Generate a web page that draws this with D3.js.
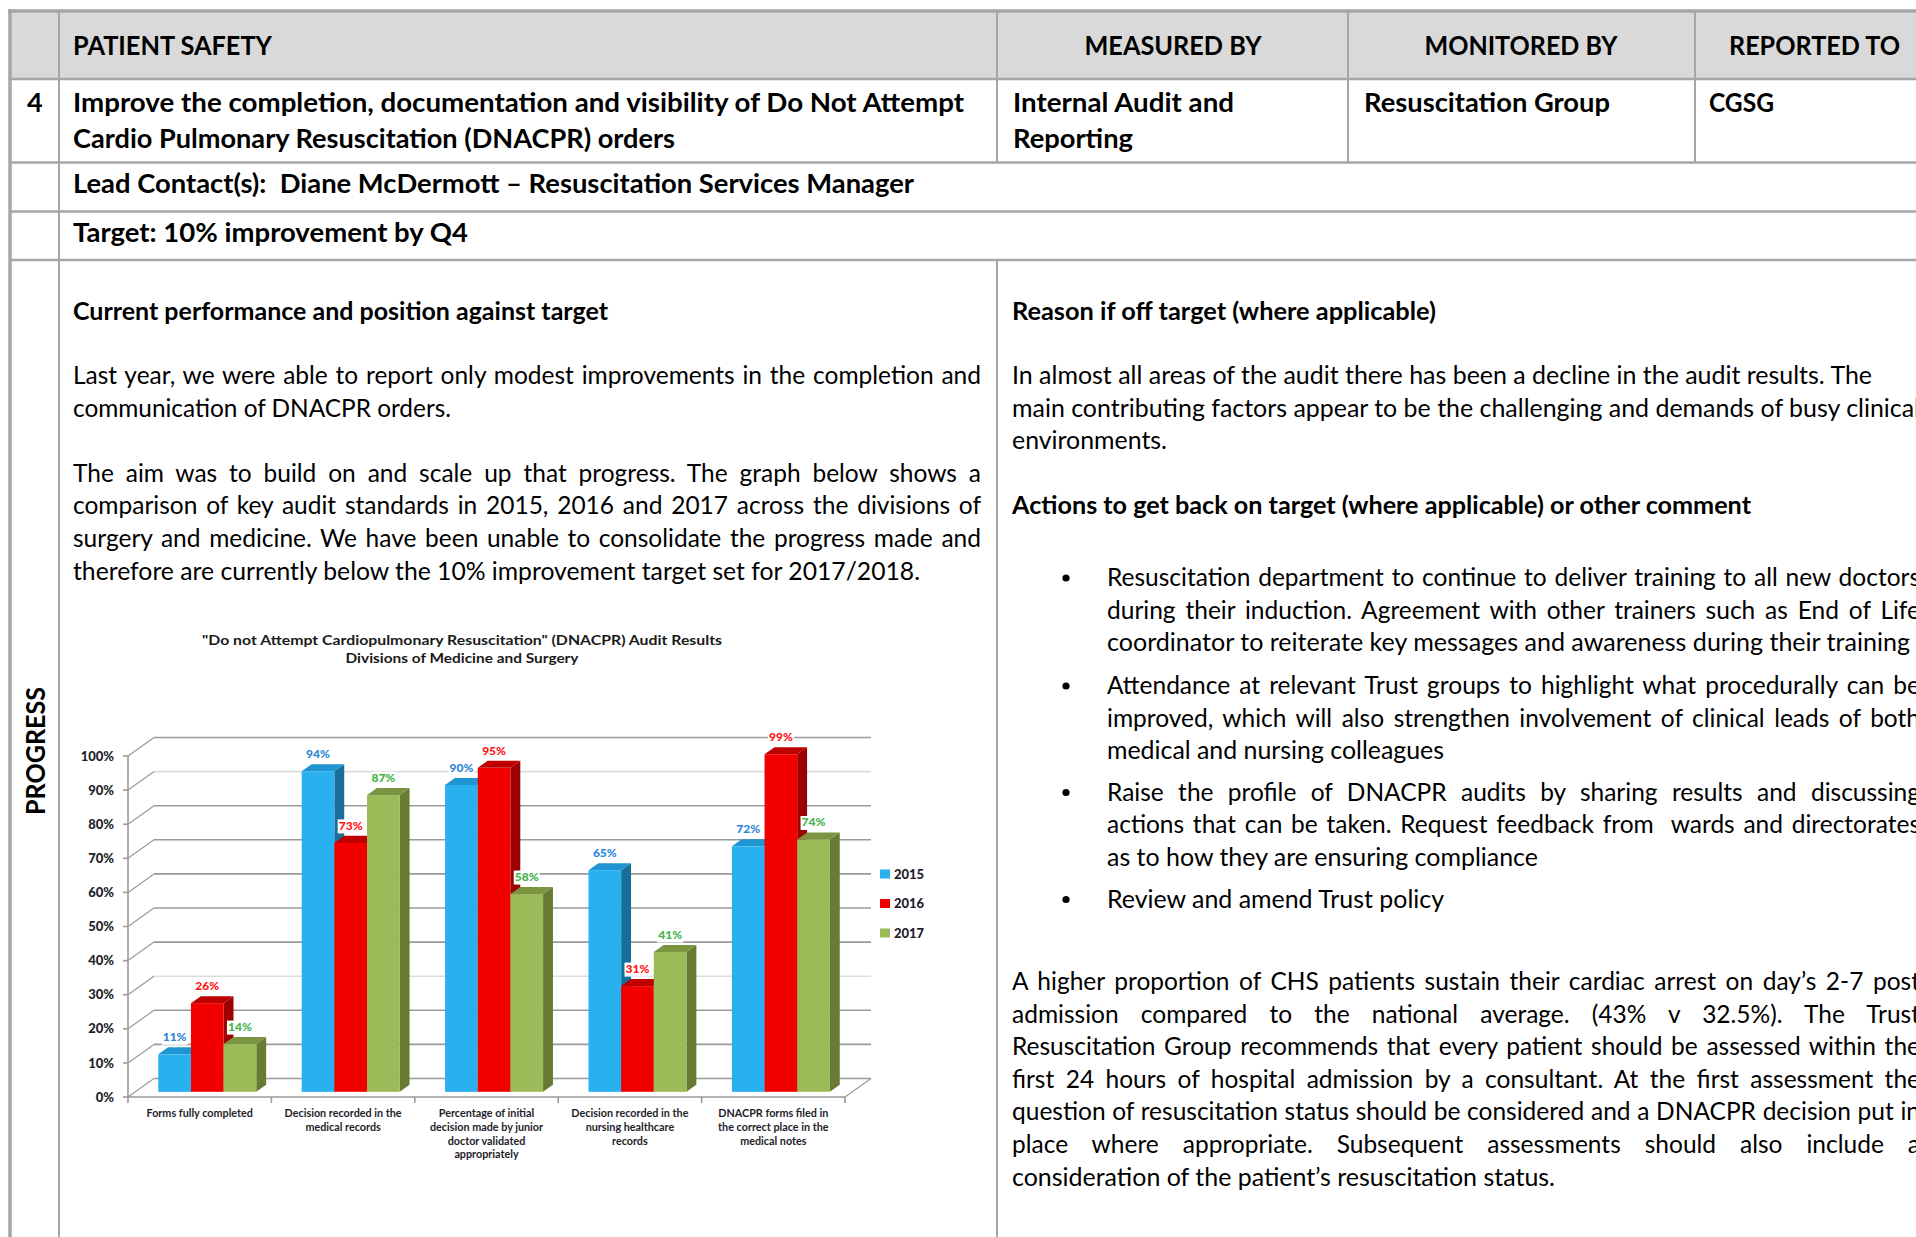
<!DOCTYPE html>
<html>
<head>
<meta charset="utf-8">
<script src="https://cdn.jsdelivr.net/npm/d3@7"></script>
<style>
  html, body { margin: 0; padding: 0; background: #fff; overflow: hidden; }
  svg { display: block; font-family: Lato, "Open Sans", sans-serif; }
  text { white-space: pre; }
</style>
</head>
<body>
<svg id="page" width="1916" height="1237"></svg>
<script>
// DNACPR audit results, one value per audit standard
var categories = [
  ["Forms fully completed"],
  ["Decision recorded in the", "medical records"],
  ["Percentage of initial", "decision made by junior", "doctor validated", "appropriately"],
  ["Decision recorded in the", "nursing healthcare", "records"],
  ["DNACPR forms filed in", "the correct place in the", "medical notes"]
];
var years = ["2015", "2016", "2017"];
var results2015 = [0.11, 0.94, 0.90, 0.65, 0.72];
var results2016 = [0.26, 0.73, 0.95, 0.31, 0.99];
var results2017 = [0.14, 0.87, 0.58, 0.41, 0.74];
var yTicks = [0, 0.1, 0.2, 0.3, 0.4, 0.5, 0.6, 0.7, 0.8, 0.9, 1];
var chartTitle = ["\"Do not Attempt Cardiopulmonary Resuscitation\" (DNACPR) Audit Results",
                  "Divisions of Medicine and Surgery"];

var series = [results2015, results2016, results2017];

var svg = d3.select("#page");

// ---------- helpers ----------
// o.len squeezes the line to a width; o.justify spreads the extra room over the word gaps
function put(g, x, y, str, o) {
  var t = g.append("text")
    .attr("x", x).attr("y", y)
    .attr("font-size", o.size)
    .attr("font-weight", o.bold ? 700 : 400)
    .attr("text-anchor", o.anchor || "start")
    .attr("fill", o.fill || "#000")
    .text(str);
  if (!o.len) return t;
  if (o.justify) {
    var natural = t.node().getComputedTextLength();
    var gaps = str.split(" ").length - 1;
    var ws = gaps ? (o.len - natural) / gaps : 0;
    if (ws >= 0) { t.attr("word-spacing", ws); return t; }
  }
  t.attr("textLength", o.len).attr("lengthAdjust", "spacingAndGlyphs");
  return t;
}

// ---------- table frame ----------
var border = "#a6a6a6";
var frame = svg.append("g");

frame.append("rect").attr("x", 10).attr("y", 11).attr("width", 1906).attr("height", 68).attr("fill", "#d9d9d9");

function hline(y, x1, x2, w) {
  frame.append("line").attr("x1", x1).attr("x2", x2).attr("y1", y).attr("y2", y)
    .attr("stroke", border).attr("stroke-width", w || 2);
}
function vline(x, y1, y2, w) {
  frame.append("line").attr("x1", x).attr("x2", x).attr("y1", y1).attr("y2", y2)
    .attr("stroke", border).attr("stroke-width", w || 2);
}

hline(11, 8, 1916, 3.5);
hline(79, 10, 1916, 2.5);
hline(162.5, 10, 1916, 2.5);
hline(211.5, 10, 1916, 2.5);
hline(260, 10, 1916, 2.5);
vline(10, 9, 1237, 3.5);
vline(59, 11, 1237, 2);
vline(997, 11, 162.5, 2);
vline(1348, 11, 162.5, 2);
vline(1695, 11, 162.5, 2);
vline(997, 260, 1237, 2);

// ---------- table text ----------
var txt = svg.append("g");
var H = 27, B = 24.5;

put(txt, 73, 55, "PATIENT SAFETY", {size: H, bold: true, len: 199});
put(txt, 1173, 55, "MEASURED BY", {size: H, bold: true, anchor: "middle", len: 177});
put(txt, 1521, 55, "MONITORED BY", {size: H, bold: true, anchor: "middle", len: 193});
put(txt, 1729, 55, "REPORTED TO", {size: H, bold: true, len: 171});

put(txt, 27, 112, "4", {size: H, bold: true});
put(txt, 73, 112, "Improve the completion, documentation and visibility of Do Not Attempt", {size: H, bold: true, len: 891});
put(txt, 73, 148, "Cardio Pulmonary Resuscitation (DNACPR) orders", {size: H, bold: true, len: 602});
put(txt, 1013, 112, "Internal Audit and", {size: H, bold: true, len: 221});
put(txt, 1013, 148, "Reporting", {size: H, bold: true, len: 120});
put(txt, 1364, 112, "Resuscitation Group", {size: H, bold: true, len: 246});
put(txt, 1709, 112, "CGSG", {size: H, bold: true, len: 65});

put(txt, 73, 193, "Lead Contact(s):  Diane McDermott \u2013 Resuscitation Services Manager", {size: H, bold: true, len: 841});
put(txt, 73, 242, "Target: 10% improvement by Q4", {size: H, bold: true, len: 395});

put(txt, 45, 751, "PROGRESS", {size: H, bold: true, anchor: "middle", len: 128})
  .attr("transform", "rotate(-90 45 751)");

// left column
put(txt, 73, 320, "Current performance and position against target", {size: B, bold: true, len: 535});
var leftLines = [
  [384, "Last year, we were able to report only modest improvements in the completion and", 908, true],
  [416.6, "communication of DNACPR orders.", 378],
  [481.8, "The aim was to build on and scale up that progress. The graph below shows a", 908, true],
  [514.4, "comparison of key audit standards in 2015, 2016 and 2017 across the divisions of", 908, true],
  [547, "surgery and medicine. We have been unable to consolidate the progress made and", 908, true],
  [579.6, "therefore are currently below the 10% improvement target set for 2017/2018.", 847]
];
leftLines.forEach(function(l) { put(txt, 73, l[0], l[1], {size: B, len: l[2], justify: l[3]}); });

// right column
put(txt, 1012, 320, "Reason if off target (where applicable)", {size: B, bold: true, len: 424});
var rightLines = [
  [384, "In almost all areas of the audit there has been a decline in the audit results. The", 860],
  [416.6, "main contributing factors appear to be the challenging and demands of busy clinical", 908],
  [449.2, "environments.", 155]
];
rightLines.forEach(function(l) { put(txt, 1012, l[0], l[1], {size: B, len: l[2]}); });
put(txt, 1012, 514.4, "Actions to get back on target (where applicable) or other comment", {size: B, bold: true, len: 739});

var bullets = [
  [[586, "Resuscitation department to continue to deliver training to all new doctors", 813, true],
   [618.6, "during their induction. Agreement with other trainers such as End of Life", 813, true],
   [651.2, "coordinator to reiterate key messages and awareness during their training", 803]],
  [[694, "Attendance at relevant Trust groups to highlight what procedurally can be", 813, true],
   [726.6, "improved, which will also strengthen involvement of clinical leads of both", 813, true],
   [759.2, "medical and nursing colleagues", 337]],
  [[800.5, "Raise the profile of DNACPR audits by sharing results and discussing", 813, true],
   [833, "actions that can be taken. Request feedback from  wards and directorates", 813, true],
   [865.6, "as to how they are ensuring compliance", 431]],
  [[907.5, "Review and amend Trust policy", 337]]
];
bullets.forEach(function(lines) {
  txt.append("circle").attr("cx", 1066).attr("cy", lines[0][0] - 8).attr("r", 3.6).attr("fill", "#000");
  lines.forEach(function(l) { put(txt, 1107, l[0], l[1], {size: B, len: l[2], justify: l[3]}); });
});

var closing = [
  [990, "A higher proportion of CHS patients sustain their cardiac arrest on day\u2019s 2-7 post", 908, true],
  [1022.6, "admission compared to the national average. (43% v 32.5%). The Trust", 908, true],
  [1055.2, "Resuscitation Group recommends that every patient should be assessed within the", 908, true],
  [1087.8, "first 24 hours of hospital admission by a consultant. At the first assessment the", 908, true],
  [1120.4, "question of resuscitation status should be considered and a DNACPR decision put in", 908, true],
  [1153, "place where appropriate. Subsequent assessments should also include a", 908, true],
  [1185.6, "consideration of the patient\u2019s resuscitation status.", 543]
];
closing.forEach(function(l) { put(txt, 1012, l[0], l[1], {size: B, len: l[2], justify: l[3]}); });

// ---------- 3D clustered column chart ----------
var chart = svg.append("g");

var x0 = d3.scaleBand().domain(d3.range(categories.length)).range([128, 845]);
var x1 = d3.scaleBand().domain(years).range([23, 121]);
var y = d3.scaleLinear().domain([0, 1]).range([1097, 756]);

// receding direction of the floor / side walls
var DX = 26, DY = -18.5;
var f0 = 0.28, f1 = 0.66;   // bar front and back depth fractions

function proj(x, v, f) { return [x + DX * f, y(v) + DY * f]; }

var faces = {
  "2015": {front: "#29b0ef", top: "#1f95d2", side: "#1a6f98", label: "#2e86d6"},
  "2016": {front: "#f20000", top: "#bf0000", side: "#9c0000", label: "#ff1414"},
  "2017": {front: "#9bbb59", top: "#7b9440", side: "#697a32", label: "#46b34a"}
};
var faintTicks = [0.3, 0.9];
var gridCol = "#9a9a9a";
var inkCol = "#1e1e2a";

// back wall gridlines
chart.selectAll(".grid").data(yTicks).enter().append("line")
  .attr("x1", function(d) { return proj(128, d, 1)[0]; })
  .attr("y1", function(d) { return proj(128, d, 1)[1]; })
  .attr("x2", function(d) { return proj(845, d, 1)[0]; })
  .attr("y2", function(d) { return proj(845, d, 1)[1]; })
  .attr("stroke", function(d) { return faintTicks.indexOf(d) >= 0 ? "#dcdcdc" : gridCol; })
  .attr("stroke-width", 1.6);

// side wall slants
chart.selectAll(".slant").data(yTicks).enter().append("line")
  .attr("x1", 128).attr("y1", function(d) { return y(d); })
  .attr("x2", function(d) { return proj(128, d, 1)[0]; })
  .attr("y2", function(d) { return proj(128, d, 1)[1]; })
  .attr("stroke", gridCol).attr("stroke-width", 1.2);

// value axis
chart.append("line").attr("x1", 128).attr("x2", 128).attr("y1", y(0)).attr("y2", y(1))
  .attr("stroke", gridCol).attr("stroke-width", 1.6);
chart.selectAll(".ytick").data(yTicks).enter().append("line")
  .attr("x1", 123).attr("x2", 128)
  .attr("y1", function(d) { return y(d); }).attr("y2", function(d) { return y(d); })
  .attr("stroke", gridCol).attr("stroke-width", 1.6);
chart.selectAll(".ylab").data(yTicks).enter().append("text")
  .attr("x", 114).attr("y", function(d) { return y(d); }).attr("dy", "0.36em")
  .attr("text-anchor", "end").attr("font-size", 13).attr("font-weight", 900).attr("fill", inkCol)
  .text(d3.format(".0%"));

// category axis at the floor front edge
chart.append("line").attr("x1", 128).attr("x2", 845).attr("y1", y(0)).attr("y2", y(0))
  .attr("stroke", gridCol).attr("stroke-width", 1.6);
chart.append("line").attr("x1", 845).attr("y1", y(0))
  .attr("x2", proj(845, 0, 1)[0]).attr("y2", proj(845, 0, 1)[1])
  .attr("stroke", gridCol).attr("stroke-width", 1.2);
chart.selectAll(".xtick").data(d3.range(categories.length + 1)).enter().append("line")
  .attr("x1", function(i) { return 128 + i * x0.step(); })
  .attr("x2", function(i) { return 128 + i * x0.step(); })
  .attr("y1", y(0)).attr("y2", y(0) + 6)
  .attr("stroke", gridCol).attr("stroke-width", 1.6);

categories.forEach(function(lines, i) {
  lines.forEach(function(s, k) {
    chart.append("text")
      .attr("x", x0(i) + x0.bandwidth() / 2).attr("y", 1117 + k * 13.8)
      .attr("text-anchor", "middle").attr("font-size", 10.8).attr("font-weight", 700).attr("fill", inkCol)
      .text(s);
  });
});

// bars, drawn left to right so neighbours cover hidden side faces
var bars = [];
categories.forEach(function(c, i) {
  years.forEach(function(yr, j) {
    bars.push({i: i, year: yr, v: series[j][i], x: x0(i) + x1(yr), w: x1.bandwidth()});
  });
});

function pts(arr) { return arr.map(function(p) { return p.join(","); }).join(" "); }

var barG = chart.selectAll(".bar").data(bars).enter().append("g");
barG.append("polygon")
  .attr("points", function(d) {
    return pts([proj(d.x + d.w, d.v, f0), proj(d.x + d.w, d.v, f1), proj(d.x + d.w, 0, f1), proj(d.x + d.w, 0, f0)]);
  })
  .attr("fill", function(d) { return faces[d.year].side; });
barG.append("polygon")
  .attr("points", function(d) {
    return pts([proj(d.x, d.v, f0), proj(d.x + d.w, d.v, f0), proj(d.x + d.w, d.v, f1), proj(d.x, d.v, f1)]);
  })
  .attr("fill", function(d) { return faces[d.year].top; });
barG.append("rect")
  .attr("x", function(d) { return proj(d.x, d.v, f0)[0]; })
  .attr("y", function(d) { return proj(d.x, d.v, f0)[1]; })
  .attr("width", function(d) { return d.w; })
  .attr("height", function(d) { return y(0) - y(d.v); })
  .attr("fill", function(d) { return faces[d.year].front; });

// data labels with a white backing box
var labG = chart.selectAll(".lab").data(bars).enter().append("g")
  .attr("transform", function(d) {
    var p = proj(d.x + d.w / 2, d.v, f0);
    return "translate(" + p[0] + "," + (p[1] - 13) + ")";
  });
labG.append("rect").attr("x", -13).attr("y", -10.5).attr("width", 26).attr("height", 14).attr("fill", "#fff");
labG.append("text").attr("text-anchor", "middle").attr("font-size", 12).attr("font-weight", 900)
  .attr("fill", function(d) { return faces[d.year].label; })
  .text(function(d) { return d3.format(".0%")(d.v); });

// legend
var leg = chart.selectAll(".leg").data(years).enter().append("g")
  .attr("transform", function(d, i) { return "translate(880," + (874 + i * 29.5) + ")"; });
leg.append("rect").attr("x", 0).attr("y", -4.5).attr("width", 10).attr("height", 9)
  .attr("fill", function(d) { return faces[d].front; });
leg.append("text").attr("x", 14).attr("dy", "0.36em").attr("font-size", 13).attr("font-weight", 900)
  .attr("fill", inkCol).text(function(d) { return d; });

// title
chart.append("text").attr("x", 462).attr("y", 645).attr("text-anchor", "middle")
  .attr("font-size", 14).attr("font-weight", 700).attr("fill", "#1a1a1a")
  .attr("textLength", 520).attr("lengthAdjust", "spacingAndGlyphs").text(chartTitle[0]);
chart.append("text").attr("x", 462).attr("y", 663).attr("text-anchor", "middle")
  .attr("font-size", 14).attr("font-weight", 700).attr("fill", "#1a1a1a")
  .attr("textLength", 233).attr("lengthAdjust", "spacingAndGlyphs").text(chartTitle[1]);
</script>
</body>
</html>
